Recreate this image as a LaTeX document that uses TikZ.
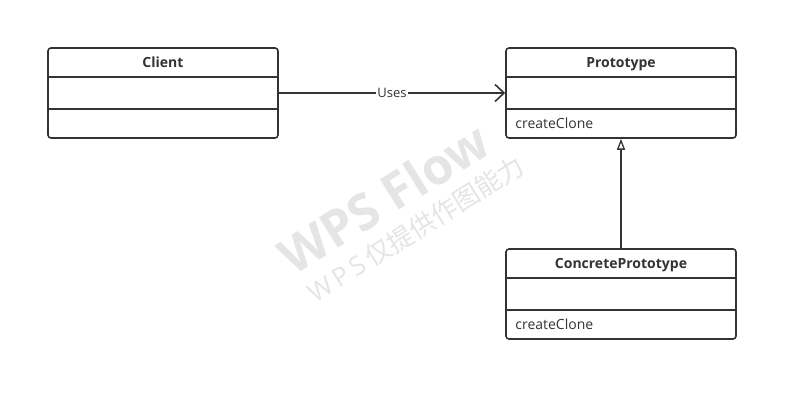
\documentclass[tikz,border=0pt]{standalone}
\usepackage{fontspec}
\setmainfont{Open Sans}
\newfontfamily\cjk{Noto Sans CJK SC}
\usetikzlibrary{arrows.meta}
\begin{document}
\begin{tikzpicture}[x=1pt,y=1pt,
  classbox/.style={draw=black!80,line width=1.6pt,rounded corners=3pt,minimum width=230pt,minimum height=90pt,inner sep=0pt},
  title/.style={font=\fontsize{14}{16}\selectfont\bfseries,text=black!80,anchor=base,inner sep=0pt},
  member/.style={font=\fontsize{14}{16}\selectfont,text=black!80,anchor=base west,inner sep=0pt},
  divider/.style={draw=black!80,line width=1.6pt},
  conn/.style={draw=black!80,line width=1.6pt},
  wm/.style={text=black!10,rotate=32}]
\useasboundingbox (0,0) rectangle (798,401);
\fill[white] (0,0) rectangle (798,401);
% watermark
\node[wm,font=\fontsize{50}{54}\selectfont\bfseries] (wm1) at (384,203) {WPS Flow};
\node[wm,font=\fontsize{26}{28}\selectfont] (wm2) at (416,172) {W\,P\,S\,{\cjk 仅提供作图能力}};
% boxes
\node[classbox] (client) at (163,308) {};
\node[classbox] (proto) at (621,308) {};
\node[classbox] (conc) at (621,107) {};
\foreach \b in {client,proto,conc}{
  \draw[divider] ([yshift=-30pt]\b.north west) -- ([yshift=-30pt]\b.north east);
  \draw[divider] ([yshift=30pt]\b.south west) -- ([yshift=30pt]\b.south east);
}
\node[title] (clientT) at ([yshift=-20pt]client.north) {Client};
\node[title] (protoT) at ([yshift=-20pt]proto.north) {Prototype};
\node[title] (concT) at ([yshift=-20pt]conc.north) {ConcretePrototype};
\node[member] (protoM) at ([xshift=10pt,yshift=10pt]proto.south west) {createClone};
\node[member] (concM) at ([xshift=10pt,yshift=10pt]conc.south west) {createClone};
% connectors
\draw[conn,-{Straight Barb[length=9pt,width=17pt,line width=1.6pt]}] (client.east) -- node[fill=white,inner sep=1pt,font=\fontsize{13}{15}\selectfont,text=black!80] (uses) {Uses} (proto.west);
\draw[conn,-{Triangle[open,length=11pt,width=8pt,line width=1.3pt]}] (conc.north) -- (proto.south);
\end{tikzpicture}
\end{document}
